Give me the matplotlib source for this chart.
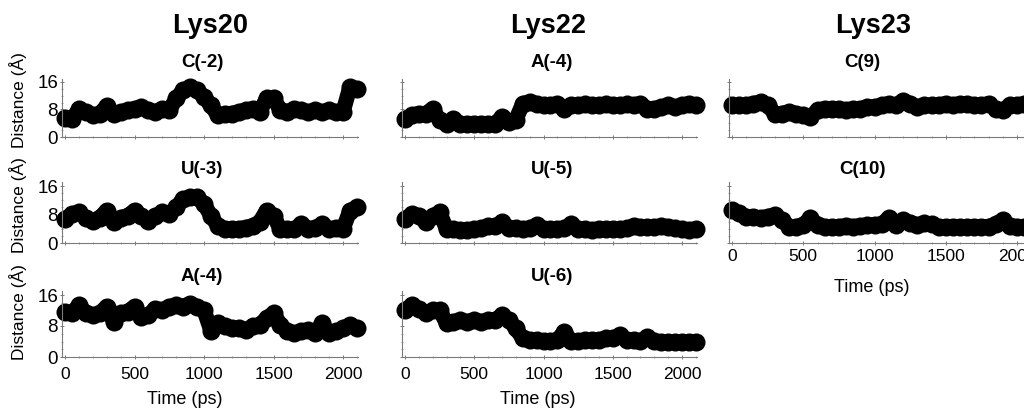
import numpy as np
import matplotlib
matplotlib.use('Agg')
import matplotlib.pyplot as plt
from matplotlib.ticker import MultipleLocator

plt.rcParams['font.family'] = ['Liberation Sans', 'DejaVu Sans']

# ---------------- data (distance in Angstrom, sampled every 50 ps) -------------
time_ps = np.arange(0, 2101, 50)

lys20_c2 = [5.5, 5.2, 8.0, 7.3, 6.3, 6.8, 9.0, 6.8, 7.3, 7.8,
            8.2, 8.7, 7.8, 7.3, 8.2, 7.8, 11.2, 13.6, 14.5, 13.6,
            11.6, 9.2, 6.3, 6.8, 6.8, 7.3, 7.8, 8.2, 7.3, 11.2,
            11.2, 7.8, 7.3, 8.2, 7.8, 7.3, 7.8, 7.3, 7.8, 7.3,
            7.3, 14.5, 14.0]
lys20_u3 = [6.7, 8.2, 8.6, 7.1, 6.3, 7.1, 9.1, 5.8, 7.1, 7.6,
            9.1, 7.6, 6.3, 7.6, 8.6, 8.2, 10.0, 12.4, 12.8, 12.8,
            11.0, 7.6, 4.8, 3.9, 3.9, 4.0, 4.3, 4.8, 5.8, 9.1,
            7.6, 3.9, 3.9, 3.9, 5.3, 4.0, 4.3, 5.3, 3.9, 4.3,
            3.9, 9.1, 10.0]
lys20_a4 = [11.7, 11.3, 13.4, 11.3, 10.8, 11.3, 13.0, 9.1, 11.3, 11.7,
            13.0, 10.4, 10.8, 12.5, 12.1, 13.0, 13.4, 13.0, 13.8, 13.0,
            12.1, 6.8, 8.7, 7.9, 7.4, 7.4, 7.0, 7.9, 8.3, 10.0,
            11.3, 8.3, 6.6, 6.2, 6.6, 7.0, 6.2, 8.7, 6.2, 6.6,
            7.4, 8.3, 7.4]
lys22_a4 = [5.3, 6.3, 6.8, 6.8, 8.2, 4.8, 3.9, 5.3, 3.9, 3.9,
            3.9, 3.9, 3.9, 3.9, 5.8, 4.4, 5.0, 9.7, 10.2, 9.7,
            9.2, 9.2, 9.7, 8.2, 9.2, 9.2, 9.5, 9.2, 9.2, 9.5,
            9.2, 9.2, 9.5, 9.2, 9.7, 8.2, 8.2, 8.7, 9.2, 8.7,
            9.2, 9.7, 9.2]
lys22_u5 = [6.7, 8.2, 7.6, 5.8, 7.6, 8.6, 3.9, 3.9, 3.7, 3.7,
            3.9, 4.1, 4.8, 4.8, 5.8, 4.1, 4.1, 3.9, 4.1, 5.0,
            3.9, 3.9, 3.9, 4.1, 5.3, 3.9, 3.9, 3.7, 3.9, 3.9,
            3.9, 3.9, 4.1, 4.8, 4.4, 4.4, 4.4, 4.8, 4.6, 4.1,
            3.9, 3.7, 3.9]
lys22_u6 = [12.1, 13.4, 12.5, 11.3, 12.1, 12.1, 8.7, 9.1, 9.5, 9.1,
            9.5, 9.1, 9.5, 9.5, 10.8, 9.5, 7.4, 4.8, 4.4, 4.4,
            4.1, 4.1, 4.4, 6.5, 4.1, 4.1, 4.4, 4.4, 4.4, 4.8,
            4.8, 5.7, 4.4, 4.4, 4.1, 5.2, 4.1, 3.9, 3.9, 3.9,
            3.9, 3.9, 3.9]
lys23_c9 = [9.2, 9.2, 9.2, 9.7, 10.2, 9.2, 6.8, 6.8, 7.3, 6.8,
            6.3, 5.8, 7.8, 8.2, 8.2, 8.2, 7.8, 8.2, 8.2, 8.7,
            8.7, 9.2, 9.7, 9.2, 10.6, 9.7, 8.7, 9.2, 9.2, 9.2,
            9.7, 9.2, 9.7, 9.7, 9.2, 9.2, 9.7, 8.2, 7.8, 9.2,
            9.2, 9.7, 9.7]
lys23_c10 = [9.3, 8.4, 7.4, 7.4, 7.0, 7.4, 7.9, 6.5, 4.6, 4.6,
             5.1, 7.0, 5.1, 4.6, 4.6, 4.6, 4.8, 4.6, 4.8, 5.1,
             5.1, 5.3, 7.0, 5.1, 6.5, 5.7, 5.1, 5.5, 5.3, 4.6,
             4.6, 4.6, 4.6, 4.6, 4.6, 4.6, 4.6, 5.3, 6.5, 4.8,
             4.6, 4.6, 4.6]

column_titles = ['Lys20', 'Lys22', 'Lys23']
panel_titles = [['C(-2)', 'U(-3)', 'A(-4)'],
                ['A(-4)', 'U(-5)', 'U(-6)'],
                ['C(9)', 'C(10)']]
panel_data = [[lys20_c2, lys20_u3, lys20_a4],
              [lys22_a4, lys22_u5, lys22_u6],
              [lys23_c9, lys23_c10]]
x_ticks = [0, 500, 1000, 1500, 2000]
y_ticks = [0, 8, 16]

# ---------------- layout (pixels) ---------------------------------------------
W, H = 1024, 412
fig = plt.figure(figsize=(W / 100, H / 100), dpi=100)

x_lim = (-22, 2110)
y_lim = (0, 17)
col_zero_px = [65, 405, 732]
col_px_per_ps = [0.139, 0.1385, 0.1425]
row_bottom_px = [137, 243, 357]
row_px_per_A = [3.44, 3.56, 3.875]

col_title_x = [210, 548, 873]
panel_title_x = [202, 552, 862]
row_title_base = [67, 174, 281]
ylabel_y = [100, 205, 312]
xlabel_pos = [(185, 400), (538, 400), (872, 287)]

spine_col = '#7a7a7a'

for c in range(3):
    n_rows = len(panel_data[c])
    for r in range(n_rows):
        left = col_zero_px[c] + x_lim[0] * col_px_per_ps[c]
        width = (x_lim[1] - x_lim[0]) * col_px_per_ps[c]
        height = (y_lim[1] - y_lim[0]) * row_px_per_A[r]
        bottom = H - row_bottom_px[r]
        ax = fig.add_axes([left / W, bottom / H, width / W, height / H])
        ax.plot(time_ps, panel_data[c][r], color='black', lw=11,
                solid_capstyle='round', solid_joinstyle='round',
                marker='o', markersize=13, markeredgewidth=0, clip_on=False)
        ax.set_xlim(*x_lim)
        ax.set_ylim(*y_lim)
        for s in ['top', 'right']:
            ax.spines[s].set_visible(False)
        for s in ['left', 'bottom']:
            ax.spines[s].set_color(spine_col)
            ax.spines[s].set_linewidth(0.8)
        ax.set_xticks(x_ticks)
        ax.set_yticks(y_ticks)
        ax.xaxis.set_minor_locator(MultipleLocator(100))
        ax.yaxis.set_minor_locator(MultipleLocator(2))
        ax.tick_params(which='major', length=2.5, width=0.7, color=spine_col,
                       labelsize=12.5, direction='inout')
        ax.tick_params(which='minor', length=1.2, width=0.5, color=spine_col,
                       direction='inout')
        ax.tick_params(axis='y', pad=1.5, labelsize=13.5)
        last = (r == n_rows - 1)
        ax.tick_params(axis='x', labelbottom=last, pad=(3 if c == 2 else 6))
        ax.tick_params(axis='y', labelleft=(c == 0))
        if c == 0:
            fig.text(18 / W, 1 - ylabel_y[r] / H, 'Distance (Å)', rotation=90,
                     ha='center', va='center', fontsize=12.5)
        fig.text(panel_title_x[c] / W, 1 - row_title_base[r] / H,
                 panel_titles[c][r], ha='center', va='baseline',
                 fontsize=13.5, fontweight='bold')
    fig.text(col_title_x[c] / W, 1 - 33 / H, column_titles[c],
             ha='center', va='baseline', fontsize=19.5, fontweight='bold')
    fig.text(xlabel_pos[c][0] / W, 1 - xlabel_pos[c][1] / H, 'Time (ps)',
             ha='center', va='center', fontsize=13)

fig.savefig('out.png', dpi=100)
